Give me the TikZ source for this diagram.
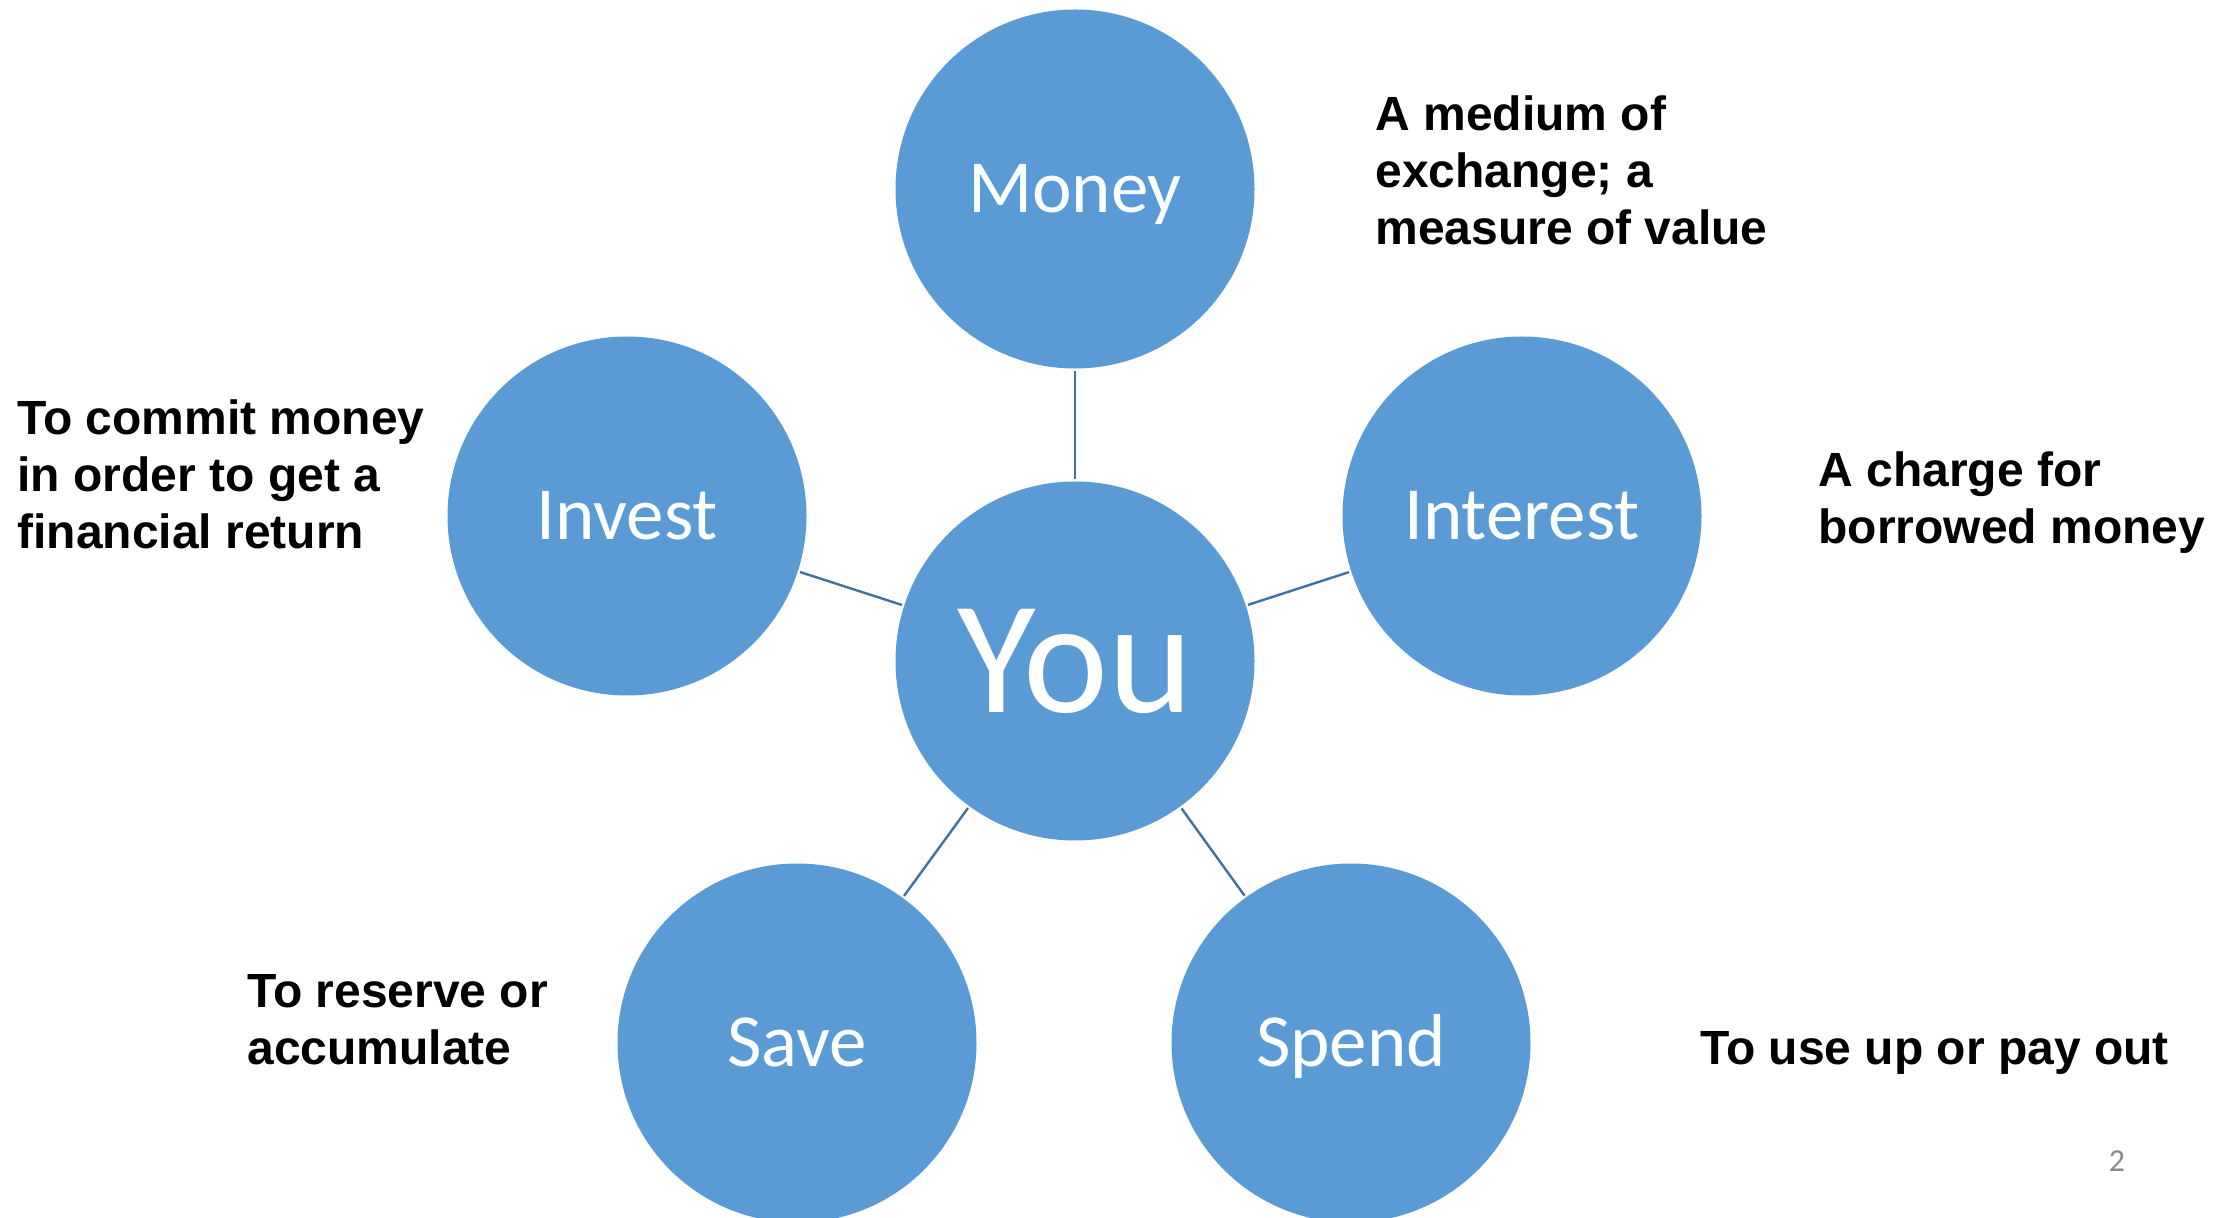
\documentclass[tikz,border=0pt]{standalone}
\usepackage{fontspec}
\setmainfont{Liberation Sans}
\newfontfamily\calfont{Carlito}
\definecolor{bub}{HTML}{5B9BD5}
\definecolor{lnk}{HTML}{41719C}
\definecolor{pgnum}{HTML}{898989}
\begin{document}
\begin{tikzpicture}[x=0.5pt,y=-0.5pt,
  bubble/.style={circle, fill=bub, draw=none, minimum size=179.5pt, inner sep=0pt,
    text=white, font=\calfont\fontsize{37.5pt}{45pt}\selectfont, text height=24pt, text depth=0pt},
  bigbubble/.style={bubble, font=\calfont\fontsize{80.5pt}{90pt}\selectfont, text height=51.8pt},
  link/.style={draw=lnk, line width=1.2pt, shorten <=1pt, shorten >=1pt},
  desc/.style={anchor=base west, align=left, inner sep=0pt,
    font=\bfseries\fontsize{24pt}{28.5pt}\selectfont}]
\fill[white] (0,0) rectangle (2235,1218);
\useasboundingbox (0,0) rectangle (2235,1218);
\begin{scope}
\clip (0,0) rectangle (2235,1218);
\node[bigbubble] (you) at (1075,661) {You};
\node[bubble] (money) at (1075,189) {Money};
\node[bubble] (invest) at (627,516) {Invest};
\node[bubble] (interest) at (1522,516) {Interest};
\node[bubble] (save) at (797,1043) {Save};
\node[bubble] (spend) at (1351,1043) {Spend};
\end{scope}
\draw[link] (money) -- (you);
\draw[link] (invest) -- (you);
\draw[link] (interest) -- (you);
\draw[link] (save) -- (you);
\draw[link] (spend) -- (you);
\node[desc] (dmoney) at (1375,245) {A medium of\\exchange; a\\measure of value};
\node[desc] (dinvest) at (17,549) {To commit money\\in order to get a\\financial return};
\node[desc] (dinterest) at (1818,544) {A charge for\\borrowed money};
\node[desc] (dsave) at (247,1065) {To reserve or\\accumulate};
\node[desc] (dspend) at (1700,1065) {To use up or pay out};
\node[anchor=base, inner sep=0pt, text=pgnum, font=\calfont\fontsize{16pt}{19pt}\selectfont] (pg) at (2117,1172) {2};
\end{tikzpicture}
\end{document}
